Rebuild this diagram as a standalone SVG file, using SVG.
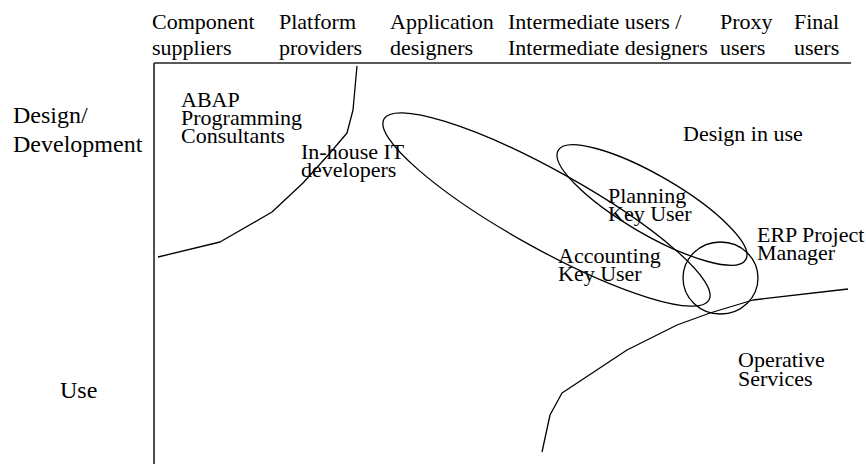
<svg xmlns="http://www.w3.org/2000/svg" width="866" height="464" viewBox="0 0 866 464">
  <style>
    text { font-family: "Liberation Serif", "Times New Roman", serif; font-size: 22px; fill: #000; }
    .row { font-size: 24px; }
    .axis { stroke: #222; stroke-width: 1.6; fill: none; }
    .line { stroke: #000; stroke-width: 1.3; fill: none; stroke-linejoin: round; }
  </style>
  <rect width="866" height="464" fill="#fff"/>

  <!-- axes -->
  <g id="axes">
    <line class="axis" x1="154" y1="63" x2="851" y2="63"/>
    <line class="axis" x1="154" y1="63" x2="154" y2="464"/>
  </g>

  <!-- column headings -->
  <g id="headings">
    <text x="152" y="29">Component</text>
    <text x="152" y="55">suppliers</text>
    <text x="279" y="29">Platform</text>
    <text x="279" y="55">providers</text>
    <text x="390" y="29">Application</text>
    <text x="390" y="55">designers</text>
    <text x="508" y="29">Intermediate users /</text>
    <text x="508" y="55">Intermediate designers</text>
    <text x="720" y="29">Proxy</text>
    <text x="720" y="55">users</text>
    <text x="794" y="29">Final</text>
    <text x="794" y="55">users</text>
  </g>

  <!-- row headings -->
  <g id="rows">
    <text class="row" x="13" y="123">Design/</text>
    <text class="row" x="13" y="152">Development</text>
    <text class="row" x="60" y="398">Use</text>
  </g>

  <!-- boundary lines and groupings -->
  <g id="connectors">
    <polyline class="line" points="357,66 353,110 347,133 330,153 303,183 272,212 220,242 158,257"/>
    <polyline class="line" points="848,289 753,300 710,313 677,325 627,350 562,393 550,415 542,452"/>
    <ellipse class="line" cx="546.5" cy="209.5" rx="186" ry="39" transform="rotate(29.1 546.5 209.5)"/>
    <ellipse class="line" cx="652" cy="205" rx="108.5" ry="29.3" transform="rotate(30.2 652 205)"/>
    <ellipse class="line" cx="720.5" cy="278" rx="37.5" ry="36"/>
  </g>

  <g id="abap">
    <text x="181" y="107">ABAP</text>
    <text x="181" y="125">Programming</text>
    <text x="181" y="143">Consultants</text>
  </g>
  <g id="inhouse">
    <text x="301" y="159">In-house IT</text>
    <text x="301" y="177">developers</text>
  </g>
  <g id="design-in-use">
    <text x="683" y="141">Design in use</text>
  </g>
  <g id="planning">
    <text x="608" y="203">Planning</text>
    <text x="608" y="221">Key User</text>
  </g>
  <g id="accounting">
    <text x="558" y="263">Accounting</text>
    <text x="558" y="281">Key User</text>
  </g>
  <g id="erp">
    <text x="757" y="242">ERP Project</text>
    <text x="757" y="260">Manager</text>
  </g>
  <g id="operative">
    <text x="738" y="367">Operative</text>
    <text x="738" y="386">Services</text>
  </g>
</svg>
